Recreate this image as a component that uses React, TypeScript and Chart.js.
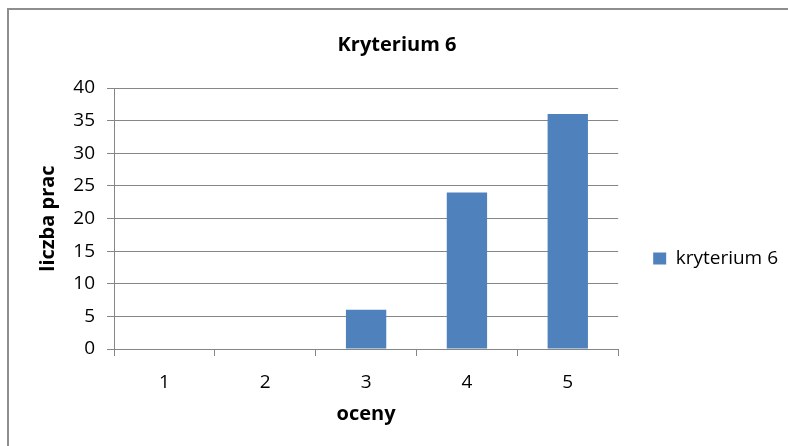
import React, { useEffect, useRef } from "react";
import { Chart, registerables } from "chart.js";

Chart.register(...registerables);

const categories = ["1", "2", "3", "4", "5"];
const seriesLabel = "kryterium 6";
const values = [0, 0, 6, 24, 36];
const chartTitle = "Kryterium 6";
const xTitle = "oceny";
const yTitle = "liczba prac";
const yMin = 0;
const yMax = 40;
const yStep = 5;

const FONT = "'Open Sans', 'Noto Sans', sans-serif";

const framePlugin = {
  id: "frame",
  beforeDraw(chart: any) {
    const { ctx, width, height } = chart;
    ctx.save();
    ctx.fillStyle = "#ffffff";
    ctx.fillRect(0, 0, width, height);
    ctx.strokeStyle = "#8e8e8e";
    ctx.lineWidth = 2;
    ctx.beginPath();
    ctx.moveTo(8, height);
    ctx.lineTo(8, 9);
    ctx.lineTo(width, 9);
    ctx.stroke();
    ctx.restore();
  },
};

export default function App() {
  const ref = useRef<HTMLCanvasElement>(null);
  useEffect(() => {
    if (!ref.current) return;
    const chart = new Chart(ref.current, {
      type: "bar",
      data: {
        labels: categories,
        datasets: [
          {
            label: seriesLabel,
            data: values,
            backgroundColor: "#4f81bd",
            borderWidth: 0,
            categoryPercentage: 0.4,
            barPercentage: 1,
          },
        ],
      },
      plugins: [framePlugin],
      options: {
        animation: false,
        responsive: false,
        maintainAspectRatio: false,
        layout: { padding: { top: 10, left: 6, right: 0, bottom: 10 } },
        plugins: {
          title: {
            display: true,
            text: chartTitle,
            color: "#000",
            font: { family: FONT, size: 20, weight: "bold" },
            padding: { top: 23, bottom: 31 },
          },
          legend: {
            display: true,
            position: "right",
            title: { display: true, text: "", padding: { top: 0, bottom: 70 }, font: { size: 1 } },
            labels: {
              boxWidth: 13,
              boxHeight: 12,
              color: "#000",
              font: { family: FONT, size: 19 },
              padding: 35,
            },
          },
          tooltip: { enabled: false },
        },
        scales: {
          x: {
            afterFit: (s: any) => {
              s.height = 87;
            },
            grid: {
              display: true,
              drawOnChartArea: false,
              drawTicks: true,
              tickLength: 7,
              color: "#868686",
              offset: true,
            },
            border: { display: true, color: "#868686", width: 1 },
            ticks: { color: "#000", font: { family: FONT, size: 19 }, padding: 15 },
            title: {
              display: true,
              text: xTitle,
              color: "#000",
              font: { family: FONT, size: 20, weight: "bold" },
              padding: { top: 0, bottom: 10 },
            },
          },
          y: {
            min: yMin,
            max: yMax,
            afterFit: (s: any) => {
              s.width = 108;
            },
            grid: {
              color: "#868686",
              tickLength: 7,
              drawTicks: true,
            },
            border: { display: true, color: "#868686", width: 1 },
            ticks: {
              stepSize: yStep,
              color: "#000",
              font: { family: FONT, size: 19 },
              padding: 12,
            },
            title: {
              display: true,
              text: yTitle,
              color: "#000",
              font: { family: FONT, size: 20, weight: "bold" },
              padding: { top: 30, bottom: 0 },
            },
          },
        },
      },
    });
    return () => chart.destroy();
  }, []);
  return (
    <div style={{ position: "absolute", left: 0, top: 0, width: 788, height: 446 }}>
      <canvas ref={ref} width={788} height={446} style={{ width: 788, height: 446, display: "block" }} />
    </div>
  );
}
